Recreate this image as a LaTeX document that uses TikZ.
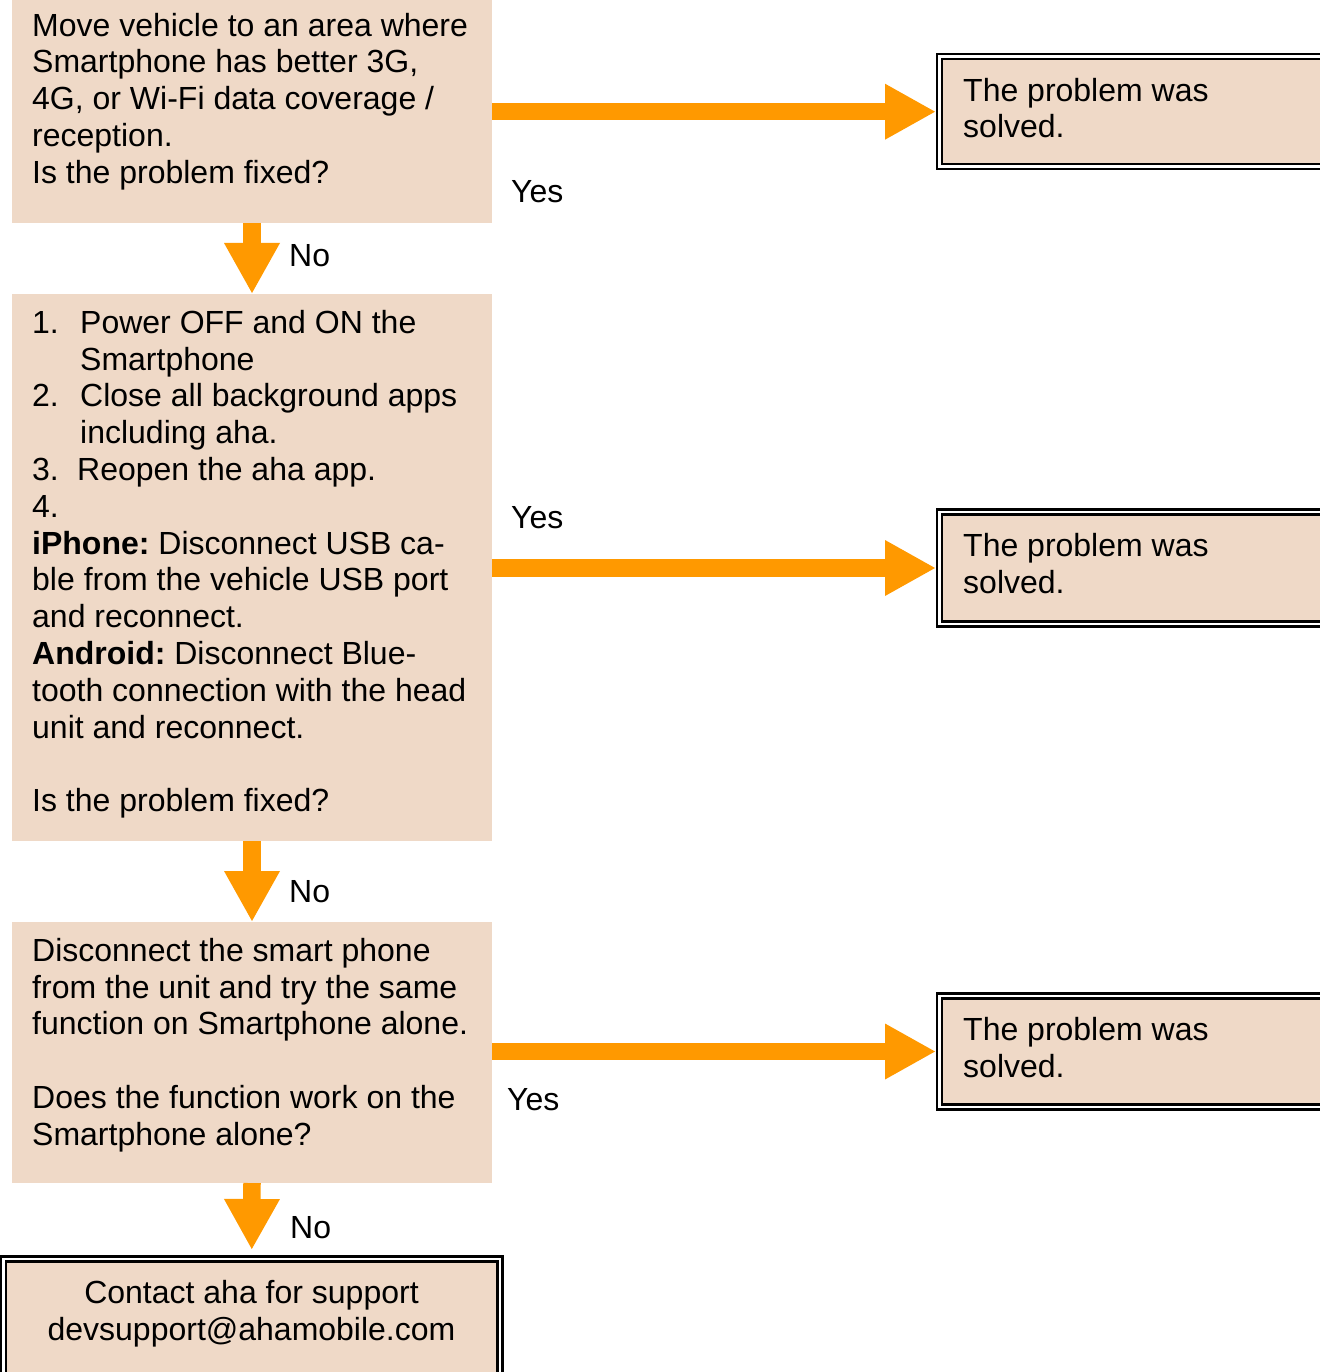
\documentclass[tikz,border=0pt]{standalone}
\usepackage{fontspec}
\setmainfont{Liberation Sans}
\usetikzlibrary{arrows.meta}
\definecolor{peach}{RGB}{239,217,199}
\definecolor{arrorange}{RGB}{255,153,0}
\frenchspacing
\begin{document}
\frenchspacing
\begin{tikzpicture}[x=1pt,y=-1pt,
 box/.style={fill=peach, draw=none, inner sep=0pt, outer sep=0pt, anchor=north west},
 dbox/.style={fill=peach, draw=black, line width=2.4pt, double=white, double distance=2.8pt, inner sep=0pt, outer sep=0pt, anchor=north west},
 txt/.style={inner sep=0pt, anchor=north west, align=left, font=\fontsize{32}{36.8}\selectfont\frenchspacing},
 lbl/.style={inner sep=0pt, anchor=base west, font=\fontsize{32}{36.8}\selectfont},
 flow/.style={draw=arrorange, line width=17.5pt, -{Triangle[length=51pt,width=52pt]}}]
\useasboundingbox (0,0) rectangle (1319,1372);
% left boxes
\node[box, minimum width=480pt, minimum height=223pt] (b1) at (12,0) {};
\node[box, minimum width=480pt, minimum height=547pt] (b2) at (12,294) {};
\node[box, minimum width=480pt, minimum height=261pt] (b3) at (12,922) {};
\node[dbox, minimum width=496.5pt, minimum height=140pt] (b4) at (3.5,1259) {};
% right boxes
\node[dbox, minimum width=390.5pt, minimum height=110pt] (r1) at (939.5,56.7) {};
\node[dbox, minimum width=390.5pt, minimum height=112pt] (r2) at (939.5,512) {};
\node[dbox, minimum width=390.5pt, minimum height=111pt] (r3) at (939.5,996) {};
% connectors
\draw[flow] (b1.south) -- (b2.north);
\draw[flow] (b2.south) -- (b3.north);
\draw[flow, shorten >=9pt] (b3.south) -- (b4.north);
\draw[flow, shorten >=3.5pt] (b1.east |- r1.west) -- (r1.west);
\draw[flow, shorten >=3.5pt] (b2.east |- r2.west) -- (r2.west);
\draw[flow, shorten >=3.5pt] (b3.east |- r3.west) -- (r3.west);
% labels
\node[lbl] (y1) at (511,203) {Yes};
\node[lbl] (y2) at (511,528) {Yes};
\node[lbl] (y3) at (507,1110) {Yes};
\node[lbl] (n1) at (289,266) {No};
\node[lbl] (n2) at (289,902) {No};
\node[lbl] (n3) at (290,1238) {No};
% texts
\node[txt] (t1) at (32,10.24) {\strut Move vehicle to an area where\\ Smartphone has better 3G,\\ 4G, or Wi-Fi data coverage /\\ reception.\\ Is the problem fixed?};
\node[txt] (t2) at (32,307.24) {\strut\makebox[48pt][l]{1.}Power OFF and ON the\\ \hspace*{48pt}Smartphone\\ \makebox[48pt][l]{2.}Close all background apps\\ \hspace*{48pt}including aha.\\ \makebox[45pt][l]{3.}Reopen the aha app.\\ 4.\\ \textbf{iPhone:} Disconnect USB ca-\\ ble from the vehicle USB port\\ and reconnect.\\ \textbf{Android:} Disconnect Blue-\\ tooth connection with the head\\ unit and reconnect.\\[36.8pt] Is the problem fixed?};
\node[txt] (t3) at (32,935.24) {\strut Disconnect the smart phone\\ from the unit and try the same\\ function on Smartphone alone.\\[36.8pt] Does the function work on the\\ Smartphone alone?};
\node[txt, anchor=north, align=center] (t4) at (251.5,1277.24) {\strut Contact aha for support\\ devsupport@ahamobile.com};
\node[txt] (s1) at (963,75.24) {\strut The problem was\\ solved.};
\node[txt] (s2) at (963,530.24) {\strut The problem was\\ solved.};
\node[txt] (s3) at (963,1014.24) {\strut The problem was\\ solved.};
\end{tikzpicture}
\end{document}
